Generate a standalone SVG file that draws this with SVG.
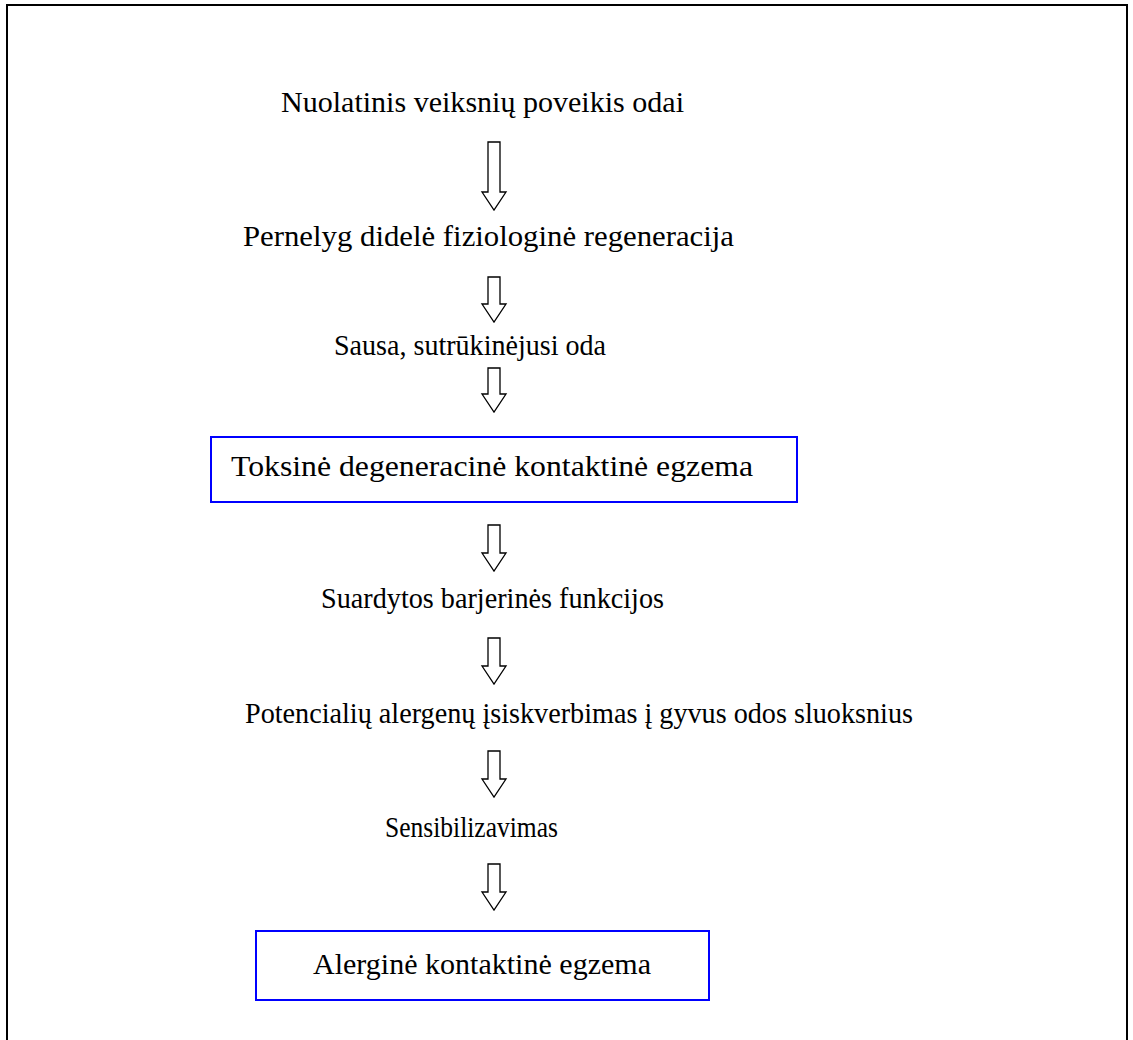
<svg xmlns="http://www.w3.org/2000/svg" width="1133" height="1040" viewBox="0 0 1133 1040">
<style>
.t{font-family:"Liberation Serif","Times New Roman",serif;font-size:30px;fill:#000}
.box{fill:#fff;stroke:#0000ff;stroke-width:2}
.arr{fill:#fff;stroke:#000;stroke-width:1.3;stroke-linejoin:miter}
</style>
<rect x="0" y="0" width="1133" height="1040" fill="#fff"/>
<rect id="frame" x="7" y="5" width="1120" height="1060" fill="none" stroke="#000" stroke-width="2"/>
<g id="n1"><text class="t" x="281" y="112" textLength="403" lengthAdjust="spacingAndGlyphs">Nuolatinis veiksnių poveikis odai</text></g>
<g id="n2"><text class="t" x="243" y="246" font-size="30.5" textLength="491" lengthAdjust="spacingAndGlyphs">Pernelyg didelė fiziologinė regeneracija</text></g>
<g id="n3"><text class="t" x="334" y="355" font-size="28" textLength="272" lengthAdjust="spacingAndGlyphs">Sausa, sutrūkinėjusi oda</text></g>
<g id="n4"><rect class="box" x="211" y="437" width="586" height="65"/><text class="t" x="231" y="476" font-size="31" textLength="522" lengthAdjust="spacingAndGlyphs">Toksinė degeneracinė kontaktinė egzema</text></g>
<g id="n5"><text class="t" x="321" y="608" font-size="28" textLength="343" lengthAdjust="spacingAndGlyphs">Suardytos barjerinės funkcijos</text></g>
<g id="n6"><text class="t" x="245" y="723" font-size="28" textLength="668" lengthAdjust="spacingAndGlyphs">Potencialių alergenų įsiskverbimas į gyvus odos sluoksnius</text></g>
<g id="n7"><text class="t" x="385" y="837" font-size="26" textLength="173" lengthAdjust="spacingAndGlyphs">Sensibilizavimas</text></g>
<g id="n8"><rect class="box" x="256" y="931" width="453" height="69"/><text class="t" x="313" y="974" textLength="338" lengthAdjust="spacingAndGlyphs">Alerginė kontaktinė egzema</text></g>
<g id="connectors">
<path class="arr" d="M488,142 H500 V192 H506 L494,210 L482,192 H488 Z"/>
<path class="arr" d="M488,277 H500 V304 H506 L494,322 L482,304 H488 Z"/>
<path class="arr" d="M488,368 H500 V394 H506 L494,412 L482,394 H488 Z"/>
<path class="arr" d="M488,525 H500 V553 H506 L494,571 L482,553 H488 Z"/>
<path class="arr" d="M488,638 H500 V666 H506 L494,684 L482,666 H488 Z"/>
<path class="arr" d="M488,751 H500 V779 H506 L494,797 L482,779 H488 Z"/>
<path class="arr" d="M488,864 H500 V892 H506 L494,910 L482,892 H488 Z"/>
</g>
</svg>
